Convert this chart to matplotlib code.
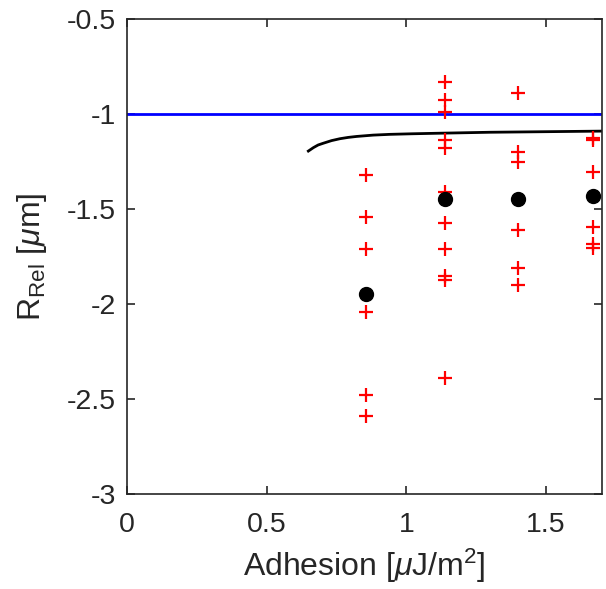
import matplotlib
matplotlib.use('Agg')
import matplotlib.pyplot as plt
import numpy as np

plt.rcParams['font.family'] = ['Liberation Sans', 'DejaVu Sans']
plt.rcParams['mathtext.fontset'] = 'custom'
plt.rcParams['mathtext.rm'] = 'Liberation Sans'
plt.rcParams['mathtext.it'] = 'Liberation Sans:italic'

# individual measurements (red +)
x_meas = ([0.855] * 6 + [1.138] * 11 + [1.399] * 6 + [1.666] * 6)
y_meas = [-1.321, -1.542, -1.711, -2.042, -2.479, -2.589,
          -0.830, -0.924, -0.989, -1.139, -1.178, -1.413, -1.576, -1.711,
          -1.855, -1.872, -2.392,
          -0.891, -1.200, -1.253, -1.608, -1.811, -1.898,
          -1.125, -1.139, -1.304, -1.594, -1.684, -1.705]

# means (black dots)
x_mean = [0.855, 1.138, 1.399, 1.666]
y_mean = [-1.947, -1.445, -1.445, -1.432]

# model curve (black line)
x_curve = [0.649, 0.667, 0.684, 0.702, 0.732, 0.762, 0.792, 0.822, 0.881,
           0.941, 1.02, 1.12, 1.299, 1.50, 1.70]
y_curve = [-1.195, -1.177, -1.163, -1.154, -1.140, -1.130, -1.123, -1.118,
           -1.111, -1.107, -1.104, -1.101, -1.096, -1.093, -1.090]

y_ref = -1.0

fig = plt.figure(figsize=(6.06, 5.89), dpi=100)
ax = fig.add_axes([0.2096, 0.1613, 0.7838, 0.8064])

ax.axhline(y_ref, color='#0000ff', lw=2)
ax.plot(x_curve, y_curve, color='k', lw=2)
ax.plot(x_meas, y_meas, '+', color='#ff0000', ms=10.5, mew=1.6)
ax.plot(x_mean, y_mean, 'o', color='k', ms=10)

ax.set_xlim(0, 1.7)
ax.set_ylim(-3, -0.5)
ax.set_xticks([0, 0.5, 1, 1.5])
ax.set_xticklabels(['0', '0.5', '1', '1.5'])
ax.set_yticks([-3, -2.5, -2, -1.5, -1, -0.5])
ax.set_yticklabels(['-3', '-2.5', '-2', '-1.5', '-1', '-0.5'])
ax.tick_params(direction='in', top=True, right=True, length=6, width=1.2,
               labelsize=20.5, colors='#262626', pad=8)
ax.tick_params(axis='x', pad=13)
for s in ax.spines.values():
    s.set_linewidth(1.2)
    s.set_color('#262626')

ax.set_xlabel(r'Adhesion [$\mu$J/m$^2$]', fontsize=23, color='#262626',
              labelpad=6)
ax.set_ylabel(r'R$_{\rm Rel}$ [$\mu$m]', fontsize=23, color='#262626',
              labelpad=12.5)

fig.savefig('out.png', dpi=100)
